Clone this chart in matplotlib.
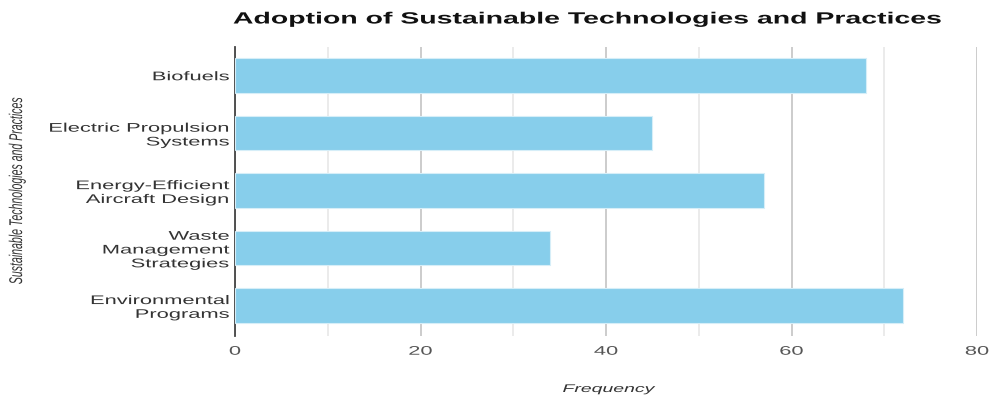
import matplotlib
matplotlib.use("Agg")
import matplotlib.pyplot as plt
from matplotlib.patheffects import AbstractPathEffect
from matplotlib.transforms import Affine2D

categories = [
    "Biofuels",
    "Electric Propulsion\nSystems",
    "Energy-Efficient\nAircraft Design",
    "Waste\nManagement\nStrategies",
    "Environmental\nPrograms",
]
frequency = [68, 45, 57, 34, 72]
x_ticks = [0, 20, 40, 60, 80]
x_minor = [10, 30, 50, 70]

title = "Adoption of Sustainable Technologies and Practices"
x_label = "Frequency"
y_label = "Sustainable Technologies and Practices"


class WideText(AbstractPathEffect):
    """Draw text glyphs widened horizontally about a fixed anchor."""

    def __init__(self, sx=1.75, anchor="center"):
        super().__init__()
        self.sx = sx
        self.anchor = anchor

    def draw_path(self, renderer, gc, tpath, affine, rgbFace=None):
        ext = tpath.get_extents(affine)
        if self.anchor == "right":
            x0 = ext.x1
        elif self.anchor == "left":
            x0 = ext.x0
        else:
            x0 = 0.5 * (ext.x0 + ext.x1)
        t = affine + Affine2D().translate(-x0, 0).scale(self.sx, 1).translate(x0, 0)
        renderer.draw_path(gc, tpath, t, rgbFace)


SX = 1.75
plt.rcParams["font.family"] = ["Liberation Sans", "DejaVu Sans"]

W, H = 989, 398
fig = plt.figure(figsize=(W / 100, H / 100), dpi=100)
ax = fig.add_axes([235 / W, 1 - 336 / H, (977 - 235) / W, (336 - 47) / H])

ypos = list(range(len(categories)))
ax.barh(ypos, frequency, height=0.6, color="#87CEEB", edgecolor="#d6eef8",
        linewidth=0.8, zorder=3)
ax.set_ylim(len(categories) - 0.5 + 0.03, -0.5)
ax.set_xlim(0, 80)

ax.set_xticks(x_ticks)
ax.set_xticks(x_minor, minor=True)
ax.grid(axis="x", which="major", color="#cccccc", linewidth=1.4, zorder=0)
ax.grid(axis="x", which="minor", color="#e8e8e8", linewidth=1.2, zorder=0)
ax.grid(axis="y", visible=False)

for s in ["top", "right", "bottom"]:
    ax.spines[s].set_visible(False)
ax.spines["left"].set_color("#444444")
ax.spines["left"].set_linewidth(1.3)

ax.set_yticks(ypos)
ax.set_yticklabels(categories, fontsize=9, color="#333333", linespacing=1.2)
ax.tick_params(axis="y", length=0, pad=4)
ax.tick_params(axis="x", which="both", length=0, pad=7, labelsize=9,
               labelcolor="#555555")

for lbl in ax.get_yticklabels():
    lbl.set_path_effects([WideText(SX, "right")])
for lbl in ax.get_xticklabels():
    lbl.set_path_effects([WideText(SX, "center")])

t = fig.text(587 / W, 1 - 19 / H, title, ha="center", va="center",
             fontsize=11.7, fontweight="bold", color="#111111")
t.set_path_effects([WideText(SX, "center")])
t = fig.text(609 / W, 1 - 389 / H, x_label, ha="center", va="center",
             fontsize=8, fontstyle="italic", color="#333333")
t.set_path_effects([WideText(SX, "center")])
t = fig.text(17 / W, 1 - 191 / H, y_label, ha="center", va="center",
             rotation=90, fontsize=7.6, fontstyle="italic", color="#333333")
t.set_path_effects([WideText(SX, "center")])

fig.savefig("out.png", dpi=100)
